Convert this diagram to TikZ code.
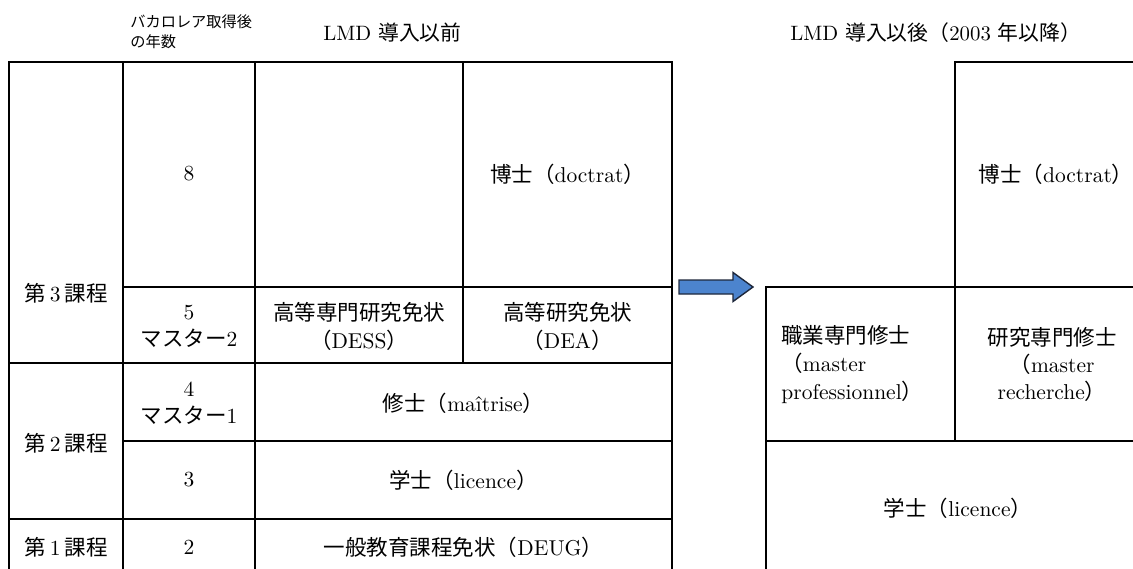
\documentclass[tikz,border=0pt]{standalone}
\usepackage{fontspec}
\newfontfamily\jpfont{Noto Sans CJK JP}
\newcommand{\jp}[1]{{\jpfont #1}}
\definecolor{arrowblue}{RGB}{76,132,206}
\definecolor{arrowedge}{RGB}{30,40,60}
\begin{document}
\begin{tikzpicture}[x=0.5pt,y=-0.5pt,
  grid/.style={line width=1pt,black},
  cell/.style={inner sep=0pt,align=center,font=\fontsize{10.75}{13.6}\selectfont},
  lcell/.style={inner sep=0pt,align=left,anchor=west,font=\fontsize{10.75}{13.8}\selectfont},
  small/.style={inner sep=0pt,align=left,anchor=west,font=\fontsize{7.6}{10}\selectfont},
  title/.style={inner sep=0pt,anchor=west,font=\fontsize{10.4}{13}\selectfont}]
\useasboundingbox (0,0) rectangle (1133,568);
\clip (0,0) rectangle (1133,568);
% ---- left table ----
\draw[grid] (9,62) rectangle (672,600);
\draw[grid] (123,62) -- (123,600);
\draw[grid] (255,62) -- (255,600);
\draw[grid] (463,62) -- (463,363);
\draw[grid] (123,287) -- (672,287);
\draw[grid] (9,363) -- (672,363);
\draw[grid] (123,441) -- (672,441);
\draw[grid] (9,519) -- (672,519);
% ---- right table ----
\draw[grid] (955,62) rectangle (1150,287);
\draw[grid] (766,287) rectangle (1150,441);
\draw[grid] (955,287) -- (955,441);
\draw[grid] (766,441) rectangle (1150,620);
% ---- arrow ----
\draw[fill=arrowblue,draw=arrowedge,line width=0.7pt,line join=miter]
  (679,280) -- (733,280) -- (733,272.5) -- (753,287) -- (733,301.5) -- (733,294) -- (679,294) -- cycle;
% ---- headings ----
\node[small] (yrs) at (130,32) {\jp{バカロレア取得後}\\\jp{の年数}};
\node[title] (t1) at (323,33) {LMD \jp{導入以前}};
\node[title] (t2) at (790,33) {LMD \jp{導入以後（}2003 \jp{年以降）}};
% ---- left table texts ----
\node[cell] (c3) at (66,293) {\jp{第}\hspace{0.2em}3\hspace{0.2em}\jp{課程}};
\node[cell] (c2) at (66,443) {\jp{第}\hspace{0.2em}2\hspace{0.2em}\jp{課程}};
\node[cell] (c1) at (66,547) {\jp{第}\hspace{0.2em}1\hspace{0.2em}\jp{課程}};
\node[cell] (y8) at (189,174) {8};
\node[cell] (y5) at (189,326.5) {5\\\jp{マスター}2};
\node[cell] (y4) at (189,403.5) {4\\\jp{マスター}1};
\node[cell] (y3) at (189,480) {3};
\node[cell] (y2) at (189,547) {2};
\node[cell] (dess) at (359,326.5) {\jp{高等専門研究免状}\\\jp{（}DESS\jp{）}};
\node[cell] (doca) at (567.5,174) {\jp{博士（}doctrat\jp{）}};
\node[cell] (dea) at (567.5,326.5) {\jp{高等研究免状}\\\jp{（}DEA\jp{）}};
\node[cell] (mait) at (463.5,403.5) {\jp{修士（}maîtrise\jp{）}};
\node[cell] (lica) at (463.5,480) {\jp{学士（}licence\jp{）}};
\node[cell] (deug) at (463.5,547) {\jp{一般教育課程免状（}DEUG\jp{）}};
% ---- right table texts ----
\node[cell] (docb) at (1056,174) {\jp{博士（}doctrat\jp{）}};
\node[lcell] (mpro) at (781,364.5) {\jp{職業専門修士}\\\jp{（}master\\professionnel\jp{）}};
\node[cell] (mrec) at (1052,364.5) {\jp{研究専門修士}\\\jp{（}master\\recherche\jp{）}};
\node[cell] (licb) at (958,508) {\jp{学士（}licence\jp{）}};
\end{tikzpicture}
\end{document}
